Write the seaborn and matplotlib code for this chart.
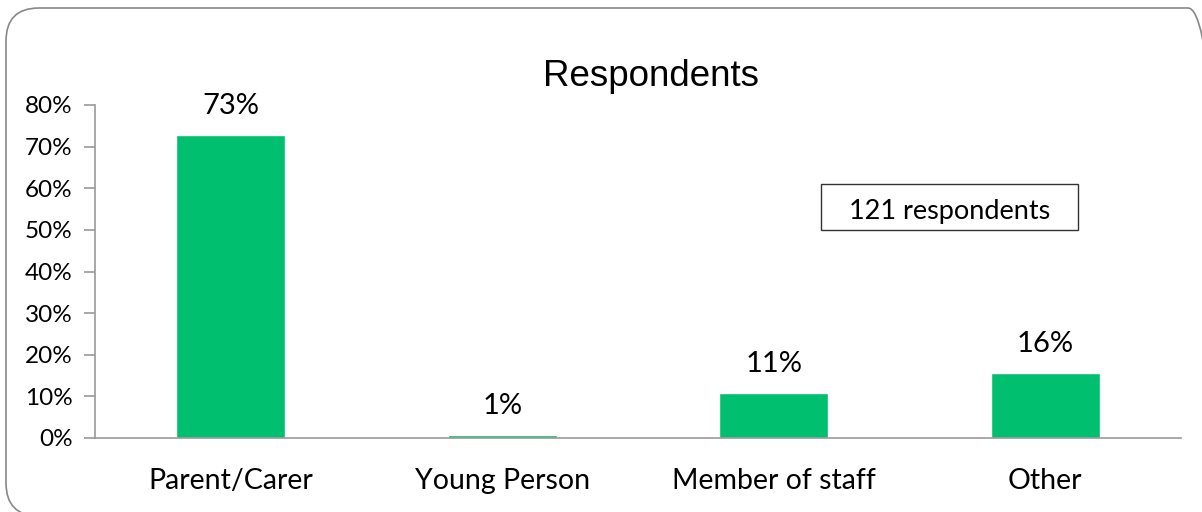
import matplotlib
matplotlib.use('Agg')
import matplotlib.pyplot as plt
import seaborn as sns
import pandas as pd
from matplotlib.patches import FancyBboxPatch, Rectangle
from matplotlib.ticker import PercentFormatter
from matplotlib.transforms import IdentityTransform

categories = ['Parent/Carer', 'Young Person', 'Member of staff', 'Other']
counts = [88, 1, 13, 19]
total = 121
shares = [c / total * 100 for c in counts]
labels = ['73%', '1%', '11%', '16%']

df = pd.DataFrame({'category': categories, 'share': shares})

sns.set_style('white')
plt.rcParams['font.family'] = ['Lato', 'DejaVu Sans']

fig = plt.figure(figsize=(12.02, 5.12), dpi=100)
ax = fig.add_axes([95 / 1202, 1 - 438 / 512, (1181 - 95) / 1202, (438 - 105) / 512])

sns.barplot(data=df, x='category', y='share', color='#00BF6F', width=0.4,
            saturation=1, ax=ax)

ax.set_ylim(0, 80)
ax.set_xlim(-0.5, 3.5)
ax.set_yticks(range(0, 81, 10))
ax.yaxis.set_major_formatter(PercentFormatter(decimals=0))
ax.set_xlabel('')
ax.set_ylabel('')
for s in ['top', 'right']:
    ax.spines[s].set_visible(False)
for s in ['left', 'bottom']:
    ax.spines[s].set_color('#999999')
    ax.spines[s].set_linewidth(1.2)

# category ticks sit between bars, labels stay centred
ax.set_xticks([-0.5, 0.5, 1.5, 2.5, 3.5])
ax.set_xticklabels([])
ax.tick_params(axis='x', length=10, color='#999999', width=1.2, direction='out')
for i, c in enumerate(categories):
    ax.text(i, -10.3, c, ha='center', va='center', fontsize=20.5, color='black')
ax.tick_params(axis='y', left=True, length=8, color='#999999', width=1.2,
               labelsize=17.5, labelcolor='black', pad=8)

for i, (v, lab) in enumerate(zip(shares, labels)):
    ax.text(i, v + 3.8, lab, ha='center', va='bottom', fontsize=21, color='black')

fig.text(651 / 1202, 1 - 77 / 512, 'Respondents', ha='center', va='center',
         fontsize=26.5, color='black', family=['Liberation Sans', 'DejaVu Sans'])

fig.patches.append(Rectangle((821 / 1202, 1 - 230 / 512), 257 / 1202, 46 / 512,
                             transform=fig.transFigure, fill=False,
                             edgecolor='#333333', linewidth=1))
fig.text(950 / 1202, 1 - 212 / 512, '121 respondents', ha='center', va='center',
         fontsize=19.5, color='black')

# outer rounded frame, in pixels; runs off the right and bottom edges
fig.patches.append(FancyBboxPatch((6, -4), 1215, 508,
                                  boxstyle='round,pad=0,rounding_size=33',
                                  transform=IdentityTransform(), fill=False,
                                  edgecolor='#888888', linewidth=1.2))

fig.savefig('out.png', dpi=100)
